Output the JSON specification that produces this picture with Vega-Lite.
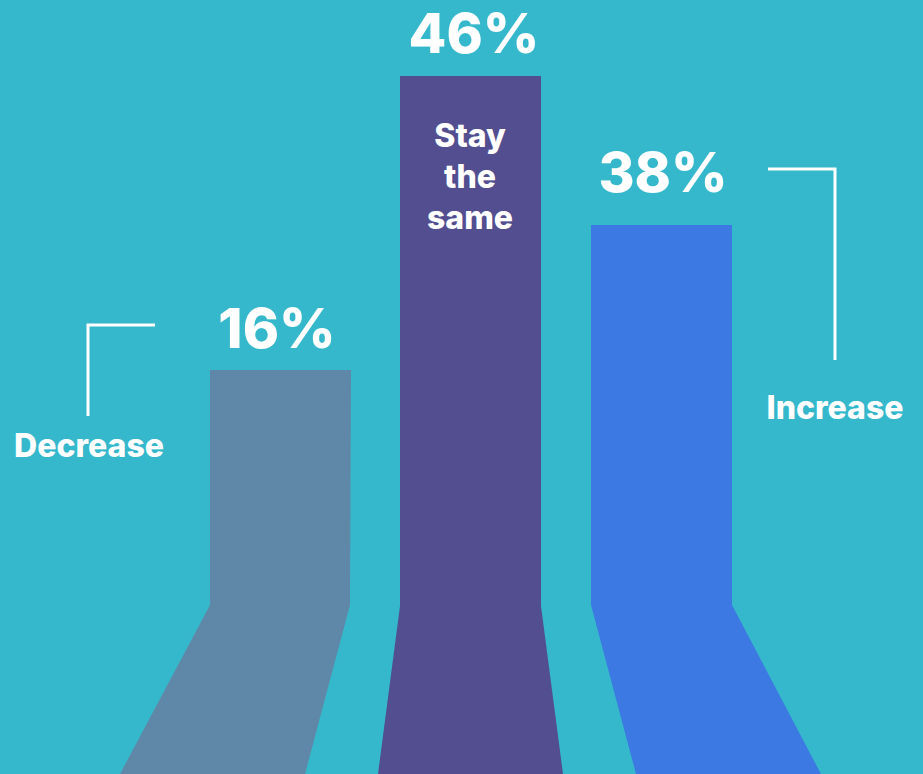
{
  "$schema": "https://vega.github.io/schema/vega-lite/v6.json",
  "width": 923,
  "height": 774,
  "autosize": {"type": "fit", "contains": "padding"},
  "padding": 0,
  "background": "#35B8CB",
  "config": {"view": {"stroke": null}},
  "datasets": {
    "shape": [
      {"bar": "Decrease", "level": 0, "left": 120, "right": 305},
      {"bar": "Decrease", "level": 169, "left": 210, "right": 350},
      {"bar": "Decrease", "level": 404, "left": 210, "right": 351},
      {"bar": "Stay the same", "level": 0, "left": 378, "right": 563},
      {"bar": "Stay the same", "level": 168, "left": 400, "right": 541},
      {"bar": "Stay the same", "level": 698, "left": 400, "right": 541},
      {"bar": "Increase", "level": 0, "left": 636, "right": 821},
      {"bar": "Increase", "level": 169, "left": 591, "right": 732},
      {"bar": "Increase", "level": 549, "left": 591, "right": 732}
    ],
    "bars": [
      {"bar": "Decrease", "pct": "16%", "center": 277, "labelLevel": 426},
      {"bar": "Stay the same", "pct": "46%", "center": 474, "labelLevel": 721},
      {"bar": "Increase", "pct": "38%", "center": 663, "labelLevel": 582}
    ],
    "brackets": [
      {"bar": "Decrease", "order": 1, "px": 155, "py": 449},
      {"bar": "Decrease", "order": 2, "px": 88, "py": 449},
      {"bar": "Decrease", "order": 3, "px": 88, "py": 358},
      {"bar": "Increase", "order": 1, "px": 768, "py": 605},
      {"bar": "Increase", "order": 2, "px": 835, "py": 605},
      {"bar": "Increase", "order": 3, "px": 835, "py": 414}
    ],
    "names": [
      {"name": "Decrease", "px": 89, "py": 317},
      {"name": "Increase", "px": 835, "py": 355},
      {"name": ["Stay", "the", "same"], "px": 470, "py": 627}
    ]
  },
  "layer": [
    {
      "data": {"name": "shape"},
      "mark": {"type": "area", "orient": "horizontal", "opacity": 1},
      "encoding": {
        "y": {"field": "level", "type": "quantitative", "scale": {"domain": [0, 774], "nice": false, "zero": false}, "axis": null},
        "x": {"field": "left", "type": "quantitative", "scale": {"domain": [0, 923], "nice": false, "zero": false}, "axis": null},
        "x2": {"field": "right"},
        "color": {
          "field": "bar",
          "type": "nominal",
          "scale": {"domain": ["Decrease", "Stay the same", "Increase"], "range": ["#5F88A8", "#524E8F", "#3C79E2"]},
          "legend": null
        }
      }
    },
    {
      "data": {"name": "bars"},
      "mark": {"type": "text", "font": "Inter", "fontWeight": 800, "fontSize": 55, "color": "white", "baseline": "alphabetic", "align": "center"},
      "encoding": {
        "x": {"field": "center", "type": "quantitative"},
        "y": {"field": "labelLevel", "type": "quantitative"},
        "text": {"field": "pct"}
      }
    },
    {
      "data": {"name": "brackets"},
      "mark": {"type": "line", "color": "white", "strokeWidth": 3, "strokeCap": "butt", "strokeJoin": "miter"},
      "encoding": {
        "x": {"field": "px", "type": "quantitative"},
        "y": {"field": "py", "type": "quantitative"},
        "detail": {"field": "bar"},
        "order": {"field": "order"}
      }
    },
    {
      "data": {"name": "names"},
      "mark": {"type": "text", "font": "Inter", "fontWeight": 800, "fontSize": 32, "color": "white", "baseline": "alphabetic", "align": "center", "lineHeight": 41},
      "encoding": {
        "x": {"field": "px", "type": "quantitative"},
        "y": {"field": "py", "type": "quantitative"},
        "text": {"field": "name"}
      }
    }
  ]
}
